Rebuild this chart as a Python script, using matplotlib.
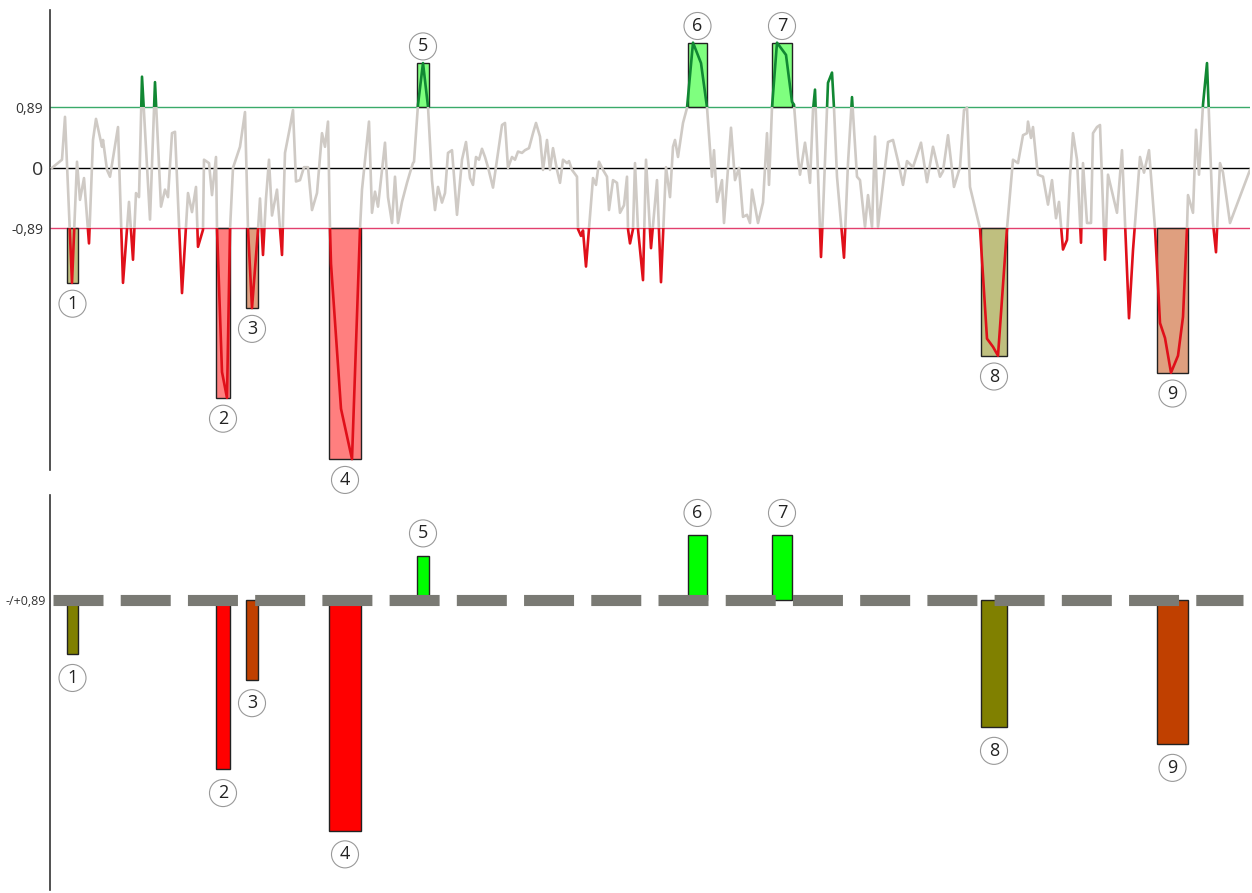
import numpy as np
import matplotlib.pyplot as plt
from matplotlib.patches import Rectangle
from matplotlib.colors import to_rgba

plt.rcParams['font.family'] = ['Open Sans', 'DejaVu Sans']

# time series
t = [2, 12, 15, 22, 27, 30, 34, 39, 43, 46, 52, 53, 57, 60, 68, 73, 79, 83, 86, 89,
     92, 100, 105, 111, 115, 118, 122, 125, 132, 138, 142, 146, 148, 153, 154, 159, 162, 166, 167, 172,
     177, 180, 183, 190, 195, 198, 202, 208, 210, 213, 216, 219, 222, 227, 232, 235, 240, 243, 246, 250,
     254, 258, 262, 267, 272, 275, 278, 280, 281, 291, 302, 310, 312, 319, 322, 325, 328, 335, 338, 342,
     345, 348, 352, 357, 360, 363, 364, 368, 373, 378, 382, 385, 388, 392, 395, 398, 402, 407, 412, 416,
     420, 423, 426, 429, 432, 435, 438, 443, 447, 452, 455, 458, 462, 465, 468, 472, 475, 479, 483, 486,
     490, 493, 497, 500, 503, 507, 510, 513, 517, 519, 522, 527, 528, 531, 533, 536, 539, 543, 546, 549,
     553, 557, 559, 563, 567, 570, 574, 577, 578, 580, 583, 585, 588, 593, 596, 600, 601, 607, 611, 616,
     620, 623, 625, 628, 633, 637, 643, 651, 657, 662, 664, 667, 672, 674, 681, 685, 689, 693, 697, 700,
     702, 708, 713, 717, 719, 722, 727, 736, 742, 744, 748, 750, 755, 757, 760, 763, 765, 771, 773, 778,
     782, 784, 787, 791, 794, 798, 802, 807, 810, 815, 818, 822, 825, 828, 835, 838, 843, 848, 853, 857,
     863, 871, 877, 883, 890, 893, 898, 904, 910, 914, 917, 920, 930, 937, 943, 948, 957, 963, 968, 973,
     977, 978, 981, 983, 987, 988, 993, 998, 1002, 1006, 1009, 1013, 1017, 1020, 1023, 1027, 1031, 1033, 1037, 1041,
     1043, 1047, 1050, 1055, 1058, 1067, 1072, 1079, 1083, 1090, 1094, 1099, 1105, 1110, 1115, 1121, 1128, 1133, 1137, 1138,
     1143, 1146, 1149, 1153, 1157, 1163, 1166, 1170, 1173, 1180, 1200]
v = [0.00, 0.12, 0.75, -1.69, 0.09, -0.47, -0.15, -1.11, 0.41, 0.72, 0.31, 0.41, -0.03, -0.13, 0.60, -1.69, -0.50, -1.35, -0.37, -0.43,
     1.34, -0.76, 1.26, -0.57, -0.32, -0.43, 0.51, 0.53, -1.84, -0.37, -0.65, -0.28, -1.16, -0.91, 0.12, 0.07, -0.40, 0.16, -0.89, -3.00,
     -3.38, -0.91, 0.00, 0.31, 0.82, -0.90, -2.06, -0.91, -0.45, -1.28, -0.45, 0.12, -0.70, -0.32, -1.28, 0.22, 0.60, 0.85, -0.20, -0.18,
     0.01, 0.01, -0.62, -0.37, 0.51, 0.31, 0.68, -0.90, -1.41, -3.54, -4.28, -0.90, -0.32, 0.68, -0.66, -0.35, -0.57, 0.37, -0.43, -0.81,
     -0.13, -0.81, -0.50, -0.22, -0.07, 0.07, 0.09, 0.93, 1.54, 0.90, -0.18, -0.62, -0.28, -0.51, -0.37, 0.22, 0.26, -0.69, 0.12, 0.38,
     -0.15, -0.25, 0.16, 0.12, 0.28, 0.16, 0.01, -0.29, 0.12, 0.63, 0.66, 0.00, 0.16, 0.12, 0.24, 0.22, 0.26, 0.29, 0.51, 0.66,
     0.46, -0.03, 0.41, -0.03, 0.29, -0.03, -0.22, 0.12, 0.07, 0.10, -0.03, -0.13, -0.90, -1.00, -0.92, -1.45, -0.90, -0.15, -0.25, 0.09,
     -0.03, -0.13, -0.62, -0.18, -0.22, -0.66, -0.55, -0.13, -0.90, -1.11, -0.90, 0.07, -0.90, -1.65, 0.12, -0.90, -1.18, -0.18, -1.68, 0.01,
     -0.43, 0.31, 0.41, 0.16, 0.66, 0.88, 1.84, 1.54, 0.89, -0.13, 0.26, -0.50, -0.18, -0.81, 0.59, -0.18, 0.00, -0.72, -0.69, -0.81,
     -0.32, -0.81, -0.51, 0.51, -0.25, 0.89, 1.84, 1.66, 0.97, 0.93, 0.16, -0.10, 0.37, 0.16, -0.22, 0.85, 1.15, -1.31, -0.66, 1.25,
     1.40, 0.88, -0.13, -0.81, -1.32, 0.07, 1.04, -0.13, -0.18, -0.87, -0.40, -0.87, 0.46, -0.87, 0.01, 0.38, 0.41, 0.10, -0.25, 0.10,
     0.01, 0.37, -0.21, 0.31, -0.13, -0.05, 0.48, -0.28, 0.01, 0.85, 0.88, -0.28, -0.89, -2.51, -2.63, -2.76, -0.89, 0.12, 0.07, 0.48,
     0.51, 0.68, 0.44, 0.60, 0.01, -0.10, -0.13, -0.54, -0.18, -0.74, -0.50, -1.20, -1.06, -0.13, 0.51, 0.12, -1.10, 0.07, -0.81, -0.81,
     0.51, 0.60, 0.63, -1.35, -0.10, -0.66, 0.26, -2.21, -1.21, 0.16, -0.07, 0.26, -0.89, -2.28, -2.50, -3.01, -2.76, -2.19, -0.89, -0.40,
     -0.66, 0.56, -0.10, 0.93, 1.54, -0.81, -1.24, 0.07, -0.07, -0.81, -0.03]

threshold = 0.89

# highlighted events
ev_start = [17, 166, 196, 279, 367, 638, 722, 931, 1107]
ev_end = [28, 180, 208, 311, 379, 657, 742, 957, 1138]
ev_colors = ['#808000', '#ff0000', '#c04000', '#ff0000', '#00ff00',
             '#00ff00', '#00ff00', '#808000', '#c04000']
ev_labels = ['1', '2', '3', '4', '5', '6', '7', '8', '9']

t = np.array(t)
v = np.array(v)
ext = []
for s, e in zip(ev_start, ev_end):
    seg = v[(t >= s) & (t <= e)]
    ext.append(seg[np.argmax(np.abs(seg))])
ext = np.array(ext)
sign = np.sign(ext)
excess = sign * (np.abs(ext) - threshold)
width = np.array(ev_end) - np.array(ev_start)
centers = np.array(ev_start) + width / 2

W, H = 1252, 893
fig = plt.figure(figsize=(W / 100, H / 100), dpi=100)
ax1 = fig.add_axes([50 / W, 1 - 470 / H, 1200 / W, 460 / H])
ax2 = fig.add_axes([50 / W, 1 - 890 / H, 1200 / W, 395 / H])

for ax in (ax1, ax2):
    ax.set_xlim(0, 1200)
    for side in ['top', 'right', 'bottom']:
        ax.spines[side].set_visible(False)
    ax.spines['left'].set_color('#333333')
    ax.spines['left'].set_linewidth(1.2)
    ax.tick_params(axis='x', bottom=False, labelbottom=False)
    ax.tick_params(axis='y', length=0, pad=5, labelcolor='#333333')

# --- top: series with thresholds
ax1.set_ylim(-4.44, 2.32)
ax1.axhline(0, color='black', lw=1, zorder=1)
ax1.axhline(threshold, color='#3aaa6a', lw=1, zorder=1)
ax1.axhline(-threshold, color='#e2406e', lw=1, zorder=1)

for s, w, y, sg, c in zip(ev_start, width, ext, sign, ev_colors):
    ax1.add_patch(Rectangle((s, sg * threshold), w, y - sg * threshold,
                            facecolor=to_rgba(c, 0.5), edgecolor='#222222', lw=1, zorder=2))

bands = [(-threshold, 2 * threshold, '#cfcac5'),
         (threshold, 10, '#118833'),
         (-10 - threshold, 10, '#e0101a')]
for y0, h, c in bands:
    line, = ax1.plot(t, v, color=c, lw=1.9, zorder=3)
    line.set_clip_path(Rectangle((0, y0), 1200, h, transform=ax1.transData))

ax1.set_yticks([-threshold, 0, threshold])
ax1.set_yticklabels(['-0,89', '0', '0,89'], fontsize=10)
ax1.get_yticklabels()[1].set_fontsize(14)

circ = dict(boxstyle='circle,pad=0.25', fc='white', ec='#999999', lw=0.8)
for x, y, sg, lab in zip(centers, ext, sign, ev_labels):
    ax1.annotate(lab, (x, y), xytext=(0, 12 if sg > 0 else -15), textcoords='offset points',
                 ha='center', va='center', fontsize=13, color='#222222', bbox=circ, zorder=5)

# --- bottom: excess beyond threshold
ax2.set_ylim(-4.26, 1.54)
ax2.bar(ev_start, excess, width=width, align='edge', color=ev_colors,
        edgecolor='#222222', lw=1, zorder=2)
ax2.plot([3, 1193], [0, 0], color='#7a7a74', lw=8, dashes=(4.5, 1.55),
         dash_capstyle='butt', zorder=3)
ax2.set_yticks([0])
ax2.set_yticklabels(['-/+0,89'], fontsize=9)
ax2.tick_params(axis='y', pad=3)

for x, y, sg, lab in zip(centers, excess, sign, ev_labels):
    ax2.annotate(lab, (x, y), xytext=(0, 16 if sg > 0 else -17), textcoords='offset points',
                 ha='center', va='center', fontsize=13, color='#222222', bbox=circ, zorder=5)

fig.savefig('out.png', dpi=100)
